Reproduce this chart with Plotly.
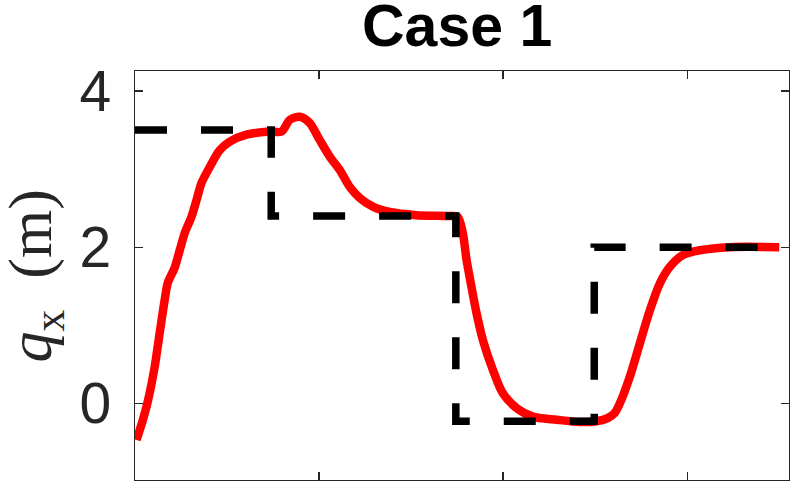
import plotly.graph_objects as go

# Actual trajectory (red)
t_actual = [0.08, 0.43, 0.71, 1.07, 1.34, 1.61, 1.78, 2.16, 2.43, 2.70, 3.07, 3.34, 3.61,
            4.07, 4.60, 5.15, 6.05, 7.32, 7.96, 8.41, 8.96, 9.49, 10.04, 10.58, 11.12,
            11.67, 12.21, 12.92, 13.84, 15.29, 17.09, 17.53, 17.81, 18.01, 18.28, 18.55,
            18.90, 19.44, 19.98, 20.73, 21.61, 22.90, 24.17, 25.08, 25.68, 26.07, 26.34,
            26.88, 27.43, 27.97, 28.52, 29.06, 29.77, 30.69, 32.32, 35.0]
q_actual = [-0.47, -0.21, 0.04, 0.47, 0.90, 1.32, 1.54, 1.74, 1.96, 2.18, 2.39, 2.60, 2.82,
            3.03, 3.24, 3.35, 3.44, 3.48, 3.48, 3.63, 3.67, 3.59, 3.37, 3.16, 2.99,
            2.77, 2.63, 2.52, 2.45, 2.41, 2.40, 2.39, 2.18, 1.84, 1.49, 1.16,
            0.81, 0.43, 0.13, -0.06, -0.17, -0.21, -0.24, -0.23, -0.19, -0.12, 0.00,
            0.34, 0.77, 1.19, 1.54, 1.75, 1.90, 1.96, 2.00, 2.00]

# Reference (black dashed step)
t_ref = [0.0, 7.4, 7.4, 17.43, 17.43, 24.95, 24.95, 35.0]
q_ref = [3.5, 3.5, 2.4, 2.4, -0.23, -0.23, 2.0, 2.0]

x_ticks = [10, 20, 30]
y_ticks = [0, 2, 4]
y_tick_labels = ["0", "2", "4"]

AX = "#262626"

fig = go.Figure()
fig.add_trace(go.Scatter(x=t_actual, y=q_actual, mode="lines",
                         line=dict(color="#ff0000", width=8.5, shape="spline", smoothing=0.8),
                         showlegend=False, hoverinfo="skip"))
fig.add_trace(go.Scatter(x=t_ref, y=q_ref, mode="lines",
                         line=dict(color="#000000", width=7.5, dash="32px,34px"),
                         showlegend=False, hoverinfo="skip"))

fig.update_layout(
    width=793, height=485,
    margin=dict(l=135, r=4, t=71, b=5, autoexpand=False),
    paper_bgcolor="white", plot_bgcolor="white",
    showlegend=False,
)
fig.update_xaxes(range=[0, 35.53], tickvals=x_ticks, showticklabels=False,
                 ticks="inside", ticklen=8, tickwidth=1.3, tickcolor=AX,
                 showline=True, linecolor=AX, linewidth=1.3, mirror="ticks",
                 showgrid=False, zeroline=False, automargin=False)
fig.update_yaxes(range=[-0.982, 4.256], tickvals=y_ticks, ticktext=y_tick_labels,
                 ticks="inside", ticklen=8, tickwidth=1.3, tickcolor=AX,
                 tickfont=dict(family="Liberation Sans", size=57, color=AX),
                 showline=True, linecolor=AX, linewidth=1.3, mirror="ticks",
                 showgrid=False, zeroline=False, ticklabelstandoff=11, automargin=False)

fig.add_annotation(text="Case 1", xref="paper", yref="paper", x=0.492, y=1.0,
                   xanchor="center", yanchor="bottom", yshift=10, showarrow=False,
                   font=dict(family="Liberation Sans", size=59, color="black", weight="bold"))

fig.add_annotation(text="<i>q</i><sub>x</sub>\u2002(m)", xref="paper", yref="paper",
                   x=-0.153, y=0.5, xanchor="center", yanchor="middle", textangle=-90,
                   showarrow=False,
                   font=dict(family="Liberation Serif", size=62, color=AX))

# remove the default 8px page margin so the figure fills the window exactly
fig.write_html("out.html", config={"displayModeBar": False, "staticPlot": True},
               post_script="document.body.style.margin='0px';")
